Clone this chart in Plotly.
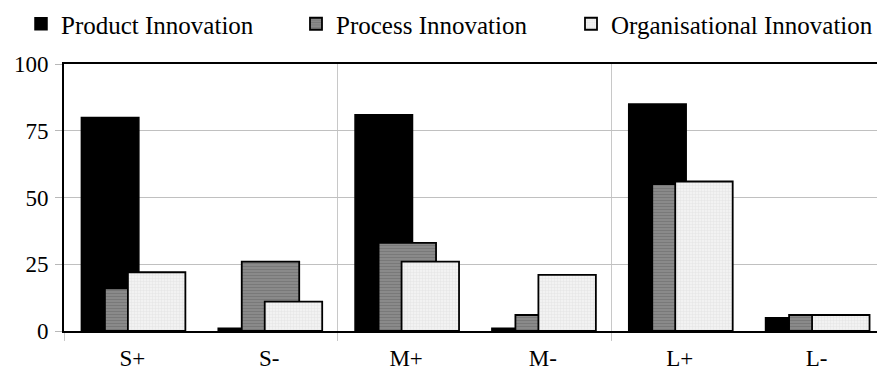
import plotly.graph_objects as go

categories = ["S+", "S-", "M+", "M-", "L+", "L-"]
product = [80, 1, 81, 1, 85, 5]
process = [16, 26, 33, 6, 55, 6]
organisational = [22, 11, 26, 21, 56, 6]
series_names = ["Product Innovation", "Process Innovation", "Organisational Innovation"]

xpos = list(range(len(categories)))
FONT = "Liberation Serif, Times New Roman, serif"
W = 0.42

fig = go.Figure()
fig.add_trace(go.Bar(
    x=xpos, y=product, name=series_names[0], width=W, offset=-0.373,
    marker=dict(color="#000000", line=dict(color="#000000", width=1.5)),
    legend="legend"))
fig.add_trace(go.Bar(
    x=xpos, y=process, name=series_names[1], width=W, offset=-0.201,
    marker=dict(color="#8a8a8a", line=dict(color="#000000", width=1.8),
                pattern=dict(shape="-", bgcolor="#8c8c8c", fgcolor="#666666",
                             size=3, solidity=0.4, fillmode="overlay")),
    legend="legend2"))
fig.add_trace(go.Bar(
    x=xpos, y=organisational, name=series_names[2], width=W, offset=-0.033,
    marker=dict(color="#eeeeee", line=dict(color="#000000", width=1.8),
                pattern=dict(shape="+", bgcolor="#f2f2f2", fgcolor="#d4d4d4",
                             size=3, solidity=0.3, fillmode="overlay")),
    legend="legend3"))

legend_common = dict(orientation="h", yanchor="middle", xanchor="left",
                     font=dict(family=FONT, size=25, color="#000000"),
                     bgcolor="rgba(0,0,0,0)", yref="paper", xref="paper")
ly = 1 + 40 / 267

# page body has an 8px margin; figure sized so that the plot fills the window
fig.update_layout(
    width=877, height=362,
    margin=dict(l=56, r=0, t=56, b=39, autoexpand=False),
    paper_bgcolor="white", plot_bgcolor="white",
    barmode="overlay",
    showlegend=True,
    legend=dict(x=(21 - 64) / 821, y=ly, **legend_common),
    legend2=dict(x=(296 - 64) / 821, y=ly, **legend_common),
    legend3=dict(x=(571 - 64) / 821, y=ly, **legend_common),
    xaxis=dict(
        range=[-0.5, 5.5], tickmode="array", tickvals=xpos, ticktext=categories,
        ticks="", showgrid=False, zeroline=False,
        showline=True, linecolor="#000000", linewidth=2, mirror=True,
        tickfont=dict(family=FONT, size=23, color="#000000"),
        ticklabelstandoff=5, automargin=False,
        minor=dict(tickmode="array", tickvals=[-0.5, 1.5, 3.5], ticks="outside",
                   ticklen=8, tickcolor="#c8c8c8", tickwidth=1,
                   showgrid=True, gridcolor="#c8c8c8", gridwidth=1),
    ),
    yaxis=dict(
        range=[0, 100], tickmode="array", tickvals=[0, 25, 50, 75, 100],
        ticks="outside", ticklen=7, tickcolor="#b8b8b8", tickwidth=1,
        showgrid=True, gridcolor="#c0c0c0", gridwidth=1, zeroline=False,
        showline=True, linecolor="#000000", linewidth=2,
        tickfont=dict(family=FONT, size=23, color="#000000"),
        ticklabelstandoff=2, automargin=False,
    ),
)

fig.write_html("out.html")
